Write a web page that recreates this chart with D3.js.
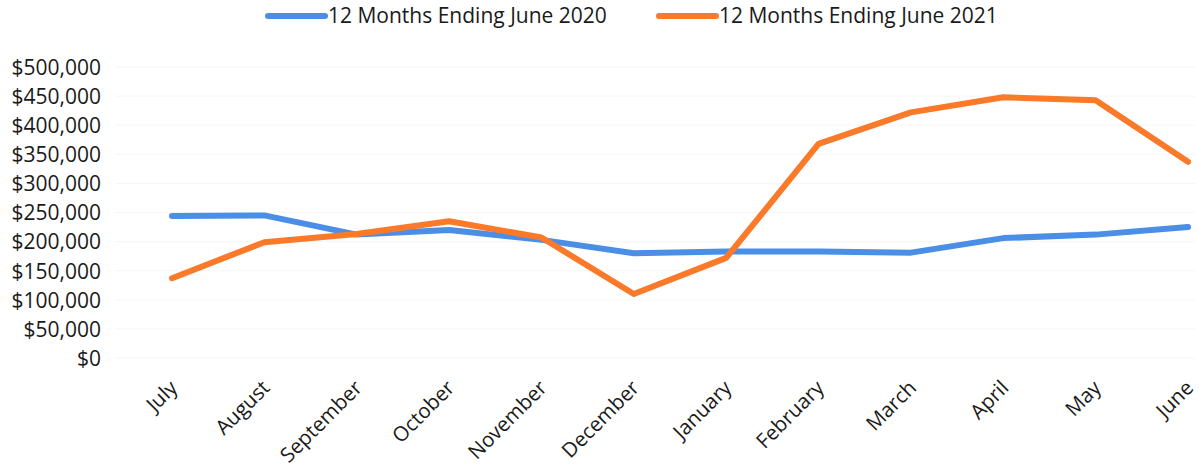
<!DOCTYPE html>
<html>
<head>
<meta charset="utf-8">
<script src="https://cdn.jsdelivr.net/npm/d3@7"></script>
<style>
  body { margin: 0; background: #fff; }
  svg text { font-family: "Open Sans", sans-serif; fill: #1a1a1a; }
</style>
</head>
<body>
<svg id="chart" width="1199" height="468"></svg>
<script>
// chart data
var months = ['July', 'August', 'September', 'October', 'November', 'December',
              'January', 'February', 'March', 'April', 'May', 'June'];
var sales2020 = [244000, 245000, 212000, 220000, 203000, 180000,
                 183000, 183000, 181000, 206000, 212000, 225000];
var sales2021 = [137000, 199000, 213000, 235000, 207000, 110000,
                 172000, 368000, 422000, 448000, 443000, 337000];
var seriesNames = ['12 Months Ending June 2020', '12 Months Ending June 2021'];
var yTicks = [0, 50000, 100000, 150000, 200000, 250000, 300000, 350000, 400000, 450000, 500000];

var colors = ['#4a8ee6', '#fa7a2a'];

function main() {
    var svg = d3.select('#chart');

    var x = d3.scalePoint().domain(months).range([172, 1188]);
    var y = d3.scaleLinear().domain([0, 500000]).range([358, 67]);

    // faint gridlines
    svg.append('g')
        .selectAll('line').data(yTicks).enter().append('line')
        .attr('x1', 115).attr('x2', 1195)
        .attr('y1', function(d) { return y(d); })
        .attr('y2', function(d) { return y(d); })
        .attr('stroke', '#f5f5f5')
        .attr('stroke-width', 1);

    // y axis labels
    var yAxis = d3.axisLeft(y).tickValues(yTicks)
        .tickFormat(function(d) { return '$' + d3.format(',')(d); })
        .tickSize(0).tickPadding(0);
    var gy = svg.append('g').attr('transform', 'translate(101,0)').call(yAxis);
    gy.select('.domain').remove();
    gy.selectAll('text')
        .attr('font-family', null)
        .style('font-size', '21px')
        .attr('dy', '0.35em');

    // x axis labels, rotated
    var xAxis = d3.axisBottom(x).tickSize(0).tickPadding(0);
    var gx = svg.append('g').attr('transform', 'translate(0,379)').call(xAxis);
    gx.select('.domain').remove();
    gx.selectAll('text')
        .attr('font-family', null)
        .style('font-size', '20.5px')
        .attr('text-anchor', 'end')
        .attr('dy', '0.7em')
        .attr('transform', 'translate(-4,0) rotate(-45)');

    // lines
    var line = d3.line()
        .x(function(d, i) { return x(months[i]); })
        .y(function(d) { return y(d); });

    [sales2020, sales2021].forEach(function(series, k) {
        svg.append('path')
            .datum(series)
            .attr('d', line)
            .attr('fill', 'none')
            .attr('stroke', colors[k])
            .attr('stroke-width', 6)
            .attr('stroke-linejoin', 'round')
            .attr('stroke-linecap', 'round');
    });

    // legend
    var legendX = [268, 659];
    seriesNames.forEach(function(name, k) {
        var g = svg.append('g').attr('transform', 'translate(' + legendX[k] + ',16)');
        g.append('line')
            .attr('x1', 0).attr('x2', 57)
            .attr('stroke', colors[k])
            .attr('stroke-width', 6)
            .attr('stroke-linecap', 'round');
        g.append('text')
            .attr('x', 60)
            .attr('dy', '0.35em')
            .style('font-size', '21px')
            .text(name);
    });
}

main();
</script>
</body>
</html>
